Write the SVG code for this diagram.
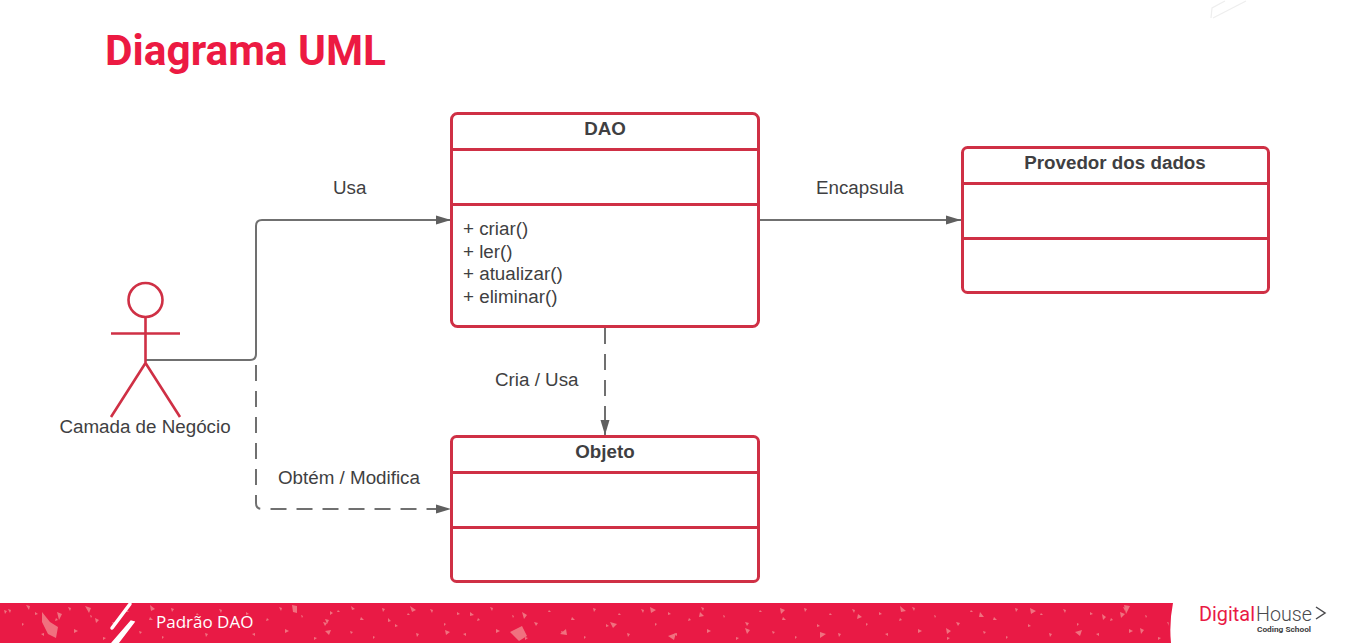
<svg xmlns="http://www.w3.org/2000/svg" width="1356" height="643" viewBox="0 0 1356 643">
<style>
text{font-family:"Liberation Sans",Arial,sans-serif;fill:#3f3f42;font-size:18.8px}
.b{font-weight:bold;text-anchor:middle}
.box{fill:#fff;stroke:#cf3045;stroke-width:3}
.div{stroke:#cf3045;stroke-width:3;fill:none}
.act{stroke:#cf3045;stroke-width:2.6;fill:none}
.con{stroke:#707070;stroke-width:2;fill:none}
.dash{stroke-dasharray:16 10}
.sp{fill:#f0717f}
</style>
<defs>
<marker id="arr" markerUnits="userSpaceOnUse" markerWidth="16" markerHeight="12" refX="15" refY="6" orient="auto"><path d="M0 1.5L15 6L0 10.500Z" fill="#5f5f5f"/></marker>
<pattern id="speck" patternUnits="userSpaceOnUse" x="0" y="603" width="211" height="40">
<path class="sp" d="M8 6l3 1-1 3zM22 20l2 1-2 2zM35 9l3 2-3 1zM41 31l3-1 0 3zM56 15l2 2-3 1zM68 4l3 1-1 3zM74 26l4 2-4 2zM90 12l2 1-1 2zM103 34l3 1-3 2zM112 19l4 1-2 3zM127 7l2 2-3 0zM139 28l3 1-2 2zM150 14l3 3-4 0zM162 33l2 1-2 2zM171 5l3 1-2 3zM184 21l3 2-3 1zM197 10l2 2-3 0zM205 30l3 1-2 3z"/>
</pattern>
</defs>
<rect width="1356" height="643" fill="#fff"/>
<text id="title" x="105" y="65" style="font-family:Roboto,sans-serif;font-weight:bold;font-size:43px;fill:#ec1a42" textLength="281" lengthAdjust="spacingAndGlyphs">Diagrama UML</text>
<path d="M1211 18L1212 8L1225 1M1213 18L1246 1" fill="none" stroke="#eeeeee" stroke-width="1.2"/>
<g id="connectors">
<path class="con" d="M146 360H250Q256 360 256 354V226Q256 220 262 220H451" marker-end="url(#arr)"/>
<path class="con" d="M759 220H961" marker-end="url(#arr)"/>
<path class="con dash" d="M605 328V435" marker-end="url(#arr)"/>
<path class="con dash" d="M256 365V503Q256 509 262 509H451" marker-end="url(#arr)"/>
</g>
<text x="333" y="194">Usa</text>
<text x="816" y="194">Encapsula</text>
<text x="495" y="386">Cria / Usa</text>
<text x="278" y="484">Obtém / Modifica</text>
<g id="actor">
<circle class="act" cx="145.500" cy="300" r="17"/>
<path class="act" d="M145.500 317V363M111 333.500H180M145.500 363L111 417M145.500 363L180 417"/>
<text x="145" y="433" text-anchor="middle">Camada de Negócio</text>
</g>
<g id="dao">
<rect class="box" x="451.500" y="113.500" width="307" height="213" rx="6"/>
<path class="div" d="M451.500 149.500H758.500M451.500 204.500H758.500"/>
<text class="b" x="605" y="135">DAO</text>
<text x="463" y="235">+ criar()</text>
<text x="463" y="258">+ ler()</text>
<text x="463" y="280">+ atualizar()</text>
<text x="463" y="303">+ eliminar()</text>
</g>
<g id="provedor">
<rect class="box" x="962.500" y="147.500" width="306" height="145" rx="5"/>
<path class="div" d="M962.500 183.500H1268.500M962.500 238.500H1268.500"/>
<text class="b" x="1115" y="169">Provedor dos dados</text>
</g>
<g id="objeto">
<rect class="box" x="451.500" y="436.500" width="307" height="145" rx="5"/>
<path class="div" d="M451.500 472.500H758.500M451.500 527.500H758.500"/>
<text class="b" x="605" y="458">Objeto</text>
</g>
<g id="footer">
<path d="M0 603H1173Q1169 623 1171 643H0Z" fill="#e91a45"/>
<path d="M0 603H1171Q1167 623 1169 643H0Z" fill="url(#speck)"/>
<path class="sp" d="M42 612l8 10 8 5-2 11-8-4-6-12zM57 612l5 2-3 6zM26 605l4 1-1 4zM4 610l3 1-2 3zM85 606l6 2-2 5zM95 618l4 2-3 3zM150 605l5 4-4 2zM292 605l5 1 0 7-4-1zM325 631l6-1-2 5zM330 611l3 2-3 2zM351 606l4 3-3 1zM325 619l4 1-2 4zM388 618l3 3-3 1zM410 606l6 4-4 2zM445 630l5 2-4 3zM470 612l4 3-4 1zM510 632l12-6 5 10-8 5zM522 612l5 3-3 4zM560 634l6-5 1 6zM610 622l7 2-4 4zM650 607l6 3-5 3zM668 636l8-3-2 7zM700 612l4 4-5 1zM745 628l5 2-3 4zM780 608l5 2-4 4zM820 632l6 2-6 4zM858 614l4 3-5 2zM900 606l6 5-5 1zM946 628l5 3-4 3zM980 612l4 5-5 0zM1030 608l6 3-5 3zM1075 632l7-2-2 6zM1120 612l5 2-4 4zM1140 628l4 2-3 4zM1124 605l6 1-4 8zM1102 614l4 3-3 3z"/>
<path d="M112 628L130 604" stroke="#fff" stroke-width="3.500" stroke-linecap="round" fill="none"/>
<path d="M134 622L118 643H112L131 621Z" fill="#fff" stroke="#fff" stroke-width="1.500"/>
<text x="156" y="628" style="font-family:'Open Sans',sans-serif;font-size:17px;fill:#fff">Padrão DAO</text>
<text x="1199" y="621" style="font-family:Roboto,sans-serif;font-size:21px;fill:#e91a45" textLength="56" lengthAdjust="spacingAndGlyphs">Digital</text>
<text x="1256" y="621" style="font-family:Roboto,sans-serif;font-weight:300;font-size:21px;fill:#4a4a4d" textLength="56" lengthAdjust="spacingAndGlyphs">House</text>
<path d="M1316 607L1325 613L1316 619" fill="none" stroke="#4a4a4d" stroke-width="1.500"/>
<text x="1257" y="632" style="font-family:Roboto,sans-serif;font-weight:bold;font-size:8px;fill:#3d3d40" textLength="54" lengthAdjust="spacingAndGlyphs">Coding School</text>
</g>
</svg>
